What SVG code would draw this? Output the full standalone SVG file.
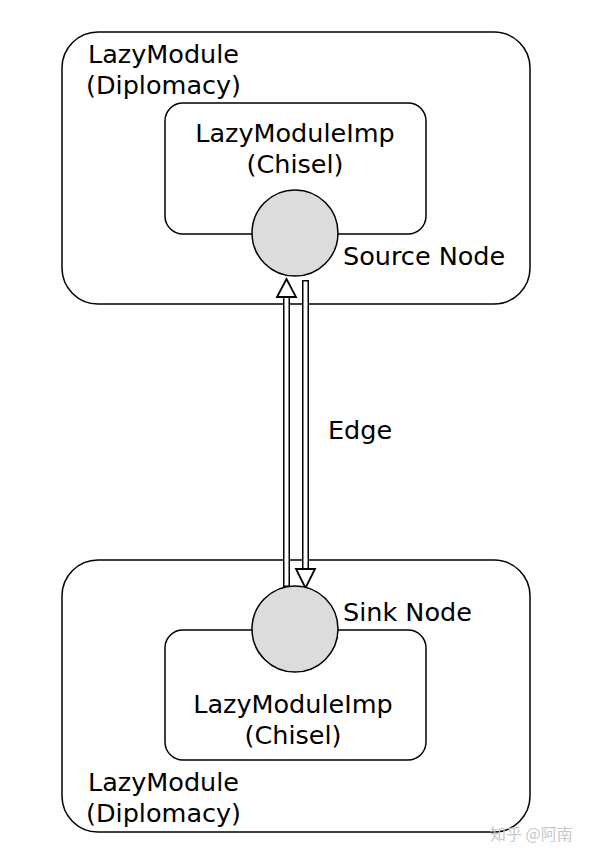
<svg xmlns="http://www.w3.org/2000/svg" width="600" height="858" viewBox="0 0 600 858">
<style>
.box{fill:none;stroke:#000;stroke-width:1.5}
.node{fill:#dcdcdc;stroke:#000;stroke-width:1.5}
text{font-family:"DejaVu Sans",sans-serif;font-size:25.5px;fill:#000}
.w{stroke:#000;stroke-width:7;fill:none}
.wi{stroke:#fff;stroke-width:4;fill:none}
.head{fill:#fff;stroke:#000;stroke-width:1.8}
</style>
<rect width="600" height="858" fill="#fff"/>
<g id="top-module"><rect class="box" x="62" y="32" width="468" height="272" rx="36"/>
<text x="88" y="63">LazyModule</text><text x="86" y="94">(Diplomacy)</text></g>
<g id="top-imp"><rect class="box" x="165" y="103" width="261" height="131" rx="18"/>
<text x="295" y="142" text-anchor="middle">LazyModuleImp</text><text x="295" y="173" text-anchor="middle">(Chisel)</text></g>
<g id="bottom-module"><rect class="box" x="62" y="560" width="468" height="272" rx="36"/>
<text x="88" y="791">LazyModule</text><text x="86" y="822">(Diplomacy)</text></g>
<g id="bottom-imp"><rect class="box" x="165" y="630" width="261" height="130" rx="18"/>
<text x="293" y="713" text-anchor="middle">LazyModuleImp</text><text x="293" y="744" text-anchor="middle">(Chisel)</text></g>
<g id="connectors">
<line class="w" x1="286.5" y1="296" x2="286.5" y2="587"/><line class="wi" x1="286.5" y1="293" x2="286.5" y2="585.5"/>
<polygon class="head" points="286.5,279 277,297 296,297"/>
<line class="w" x1="305.5" y1="280" x2="305.5" y2="570"/><line class="wi" x1="305.5" y1="281.5" x2="305.5" y2="573"/>
<polygon class="head" points="305.5,588 296,569 315,569"/>
<text x="328" y="439">Edge</text>
</g>
<g id="source-node"><circle class="node" cx="295" cy="233" r="43"/><text x="343" y="265">Source Node</text></g>
<g id="sink-node"><circle class="node" cx="295" cy="629" r="43"/><text x="343" y="621">Sink Node</text></g>
<text x="490" y="840" style="font-family:'Noto Sans CJK SC',sans-serif;font-size:16px;fill:#c8c8c8">知乎 @阿南</text>
</svg>
